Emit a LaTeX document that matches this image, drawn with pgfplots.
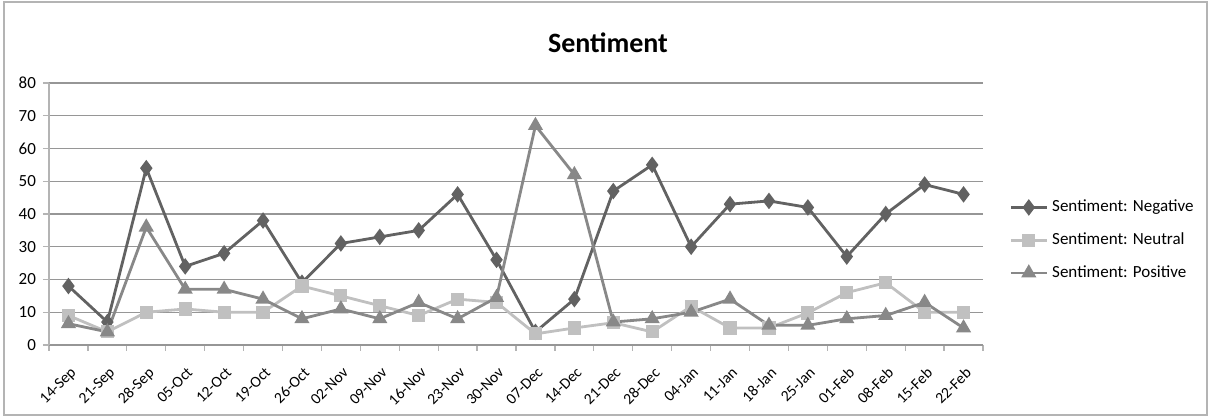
\documentclass[border=0pt]{standalone}
\usepackage{pgfplots}
\pgfplotsset{compat=1.18}
\usepackage{fontspec}
\setmainfont{Carlito}

\definecolor{negc}{RGB}{98,98,98}
\definecolor{neuc}{RGB}{192,192,192}
\definecolor{posc}{RGB}{136,136,136}
\definecolor{gridc}{RGB}{150,150,150}
\definecolor{axisc}{RGB}{180,180,180}

\begin{document}
\begin{tikzpicture}
\path[use as bounding box] (0,0) rectangle (605pt,208.5pt);
\draw[axisc, line width=0.6pt] (2pt,1pt) rectangle (603.5pt,207.5pt);
\node[font=\fontsize{14}{16}\selectfont\bfseries, anchor=base] at (304pt,182pt) {Sentiment};
\begin{axis}[
    at={(24.5pt,36pt)}, anchor=south west,
    scale only axis, width=467pt, height=131pt,
    xmin=-0.5, xmax=23.5, ymin=0, ymax=80,
    xtick={-0.5,0.5,...,23.5},
    x tick label as interval,
    xticklabels={14-Sep,21-Sep,28-Sep,05-Oct,12-Oct,19-Oct,26-Oct,02-Nov,09-Nov,16-Nov,23-Nov,30-Nov,07-Dec,14-Dec,21-Dec,28-Dec,04-Jan,11-Jan,18-Jan,25-Jan,01-Feb,08-Feb,15-Feb,22-Feb},
    xticklabel style={xshift=0.5pt, yshift=-6pt, rotate=45, anchor=north east,
        font=\fontsize{7.8}{9}\selectfont, inner sep=1pt},
    ytick={0,10,...,80},
    yticklabel style={font=\fontsize{8.5}{10}\selectfont},
    /pgf/number format/assume math mode=true,
    ymajorgrids, grid style={gridc, line width=0.7pt},
    axis x line*=bottom, axis y line*=left,
    axis line style={axisc, line width=0.6pt},
    tick align=outside, major tick length=3pt,
    tick style={axisc, line width=0.6pt},
    every outer x axis line/.style={gridc, line width=0.7pt},
    legend style={at={(1,0.40)}, anchor=west, xshift=12pt, draw=none, fill=none,
        font=\fontsize{8.5}{10}\selectfont, row sep=5pt, inner sep=1pt},
    legend cell align=left,
    legend image code/.code={\draw[mark repeat=2,mark phase=2,#1] plot coordinates {(0pt,0pt) (9pt,0pt) (18pt,0pt)};},
    every axis plot/.append style={line width=1.4pt},
]
\addplot[negc, mark=diamond*, mark size=3pt, mark options={fill=negc, solid}] coordinates {
(0,18) (1,7) (2,54) (3,24) (4,28) (5,38) (6,19) (7,31) (8,33) (9,35) (10,46) (11,26)
(12,4) (13,14) (14,47) (15,55) (16,30) (17,43) (18,44) (19,42) (20,27) (21,40) (22,49) (23,46)};
\addlegendentry{Sentiment: Negative}
\addplot[neuc, mark=square*, mark size=2.6pt, mark options={fill=neuc, solid}] coordinates {
(0,9) (1,4) (2,10) (3,11) (4,10) (5,10) (6,18) (7,15) (8,12) (9,9) (10,14) (11,13)
(12,3.4) (13,5.2) (14,6.8) (15,4) (16,11.8) (17,5.2) (18,5.2) (19,9.8) (20,16) (21,19) (22,10) (23,10)};
\addlegendentry{Sentiment: Neutral}
\addplot[posc, mark=triangle*, mark size=3pt, mark options={fill=posc, solid}] coordinates {
(0,6.5) (1,4) (2,36) (3,17) (4,17) (5,14) (6,8) (7,11) (8,8) (9,13) (10,8) (11,14.5)
(12,67) (13,52) (14,7) (15,8) (16,10) (17,14) (18,6) (19,6) (20,8) (21,9) (22,13) (23,5.2)};
\addlegendentry{Sentiment: Positive}
\end{axis}
\end{tikzpicture}
\end{document}
